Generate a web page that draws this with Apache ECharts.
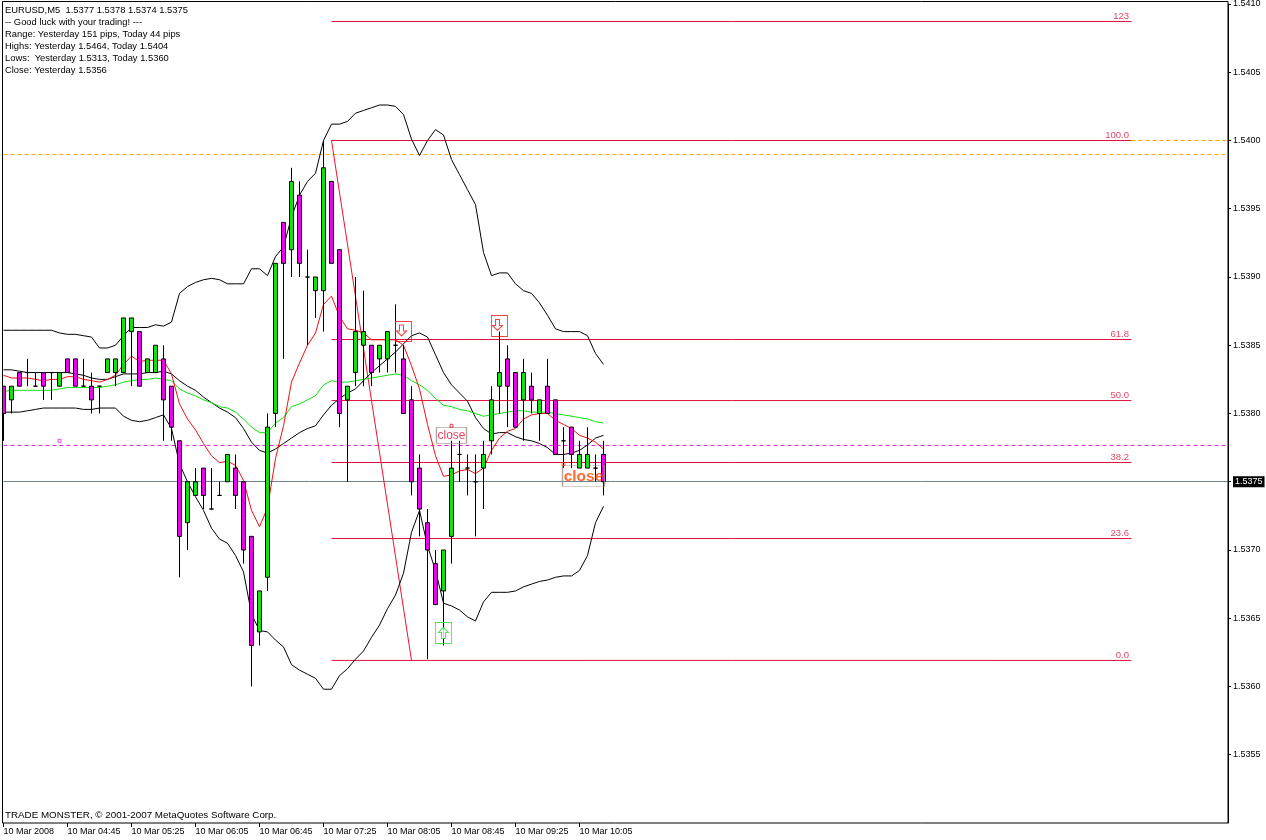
<!DOCTYPE html>
<html>
<head>
<meta charset="utf-8">
<style>html,body{margin:0;padding:0;background:#fff}#c{width:1266px;height:840px}</style>
<script src="https://cdn.jsdelivr.net/npm/echarts@6/dist/echarts.min.js"></script>
</head>
<body>
<div id="c"></div>
<script>
const headerLines = [
  'EURUSD,M5  1.5377 1.5378 1.5374 1.5375',
  '-- Good luck with your trading! ---',
  'Range: Yesterday 151 pips, Today 44 pips',
  'Highs: Yesterday 1.5464, Today 1.5404',
  'Lows:  Yesterday 1.5313, Today 1.5360',
  'Close: Yesterday 1.5356'
];
const footerText = 'TRADE MONSTER, \u00A9 2001-2007 MetaQuotes Software Corp.';
const timeTicks = ['10 Mar 2008','10 Mar 04:45','10 Mar 05:25','10 Mar 06:05','10 Mar 06:45','10 Mar 07:25','10 Mar 08:05','10 Mar 08:45','10 Mar 09:25','10 Mar 10:05'];
const priceTicks = [1.5355,1.5360,1.5365,1.5370,1.5375,1.5380,1.5385,1.5390,1.5395,1.5400,1.5405,1.5410];
const currentPriceLabel = '1.5375';

const open = [1.5382,1.5381,1.5383,1.5383,1.5382,1.5383,1.5383,1.5382,1.5384,1.5384,1.5382,1.5382,1.5382,1.5383,1.5383,1.5383,1.5386,1.5386,1.5383,1.5383,1.5384,1.5382,1.5378,1.5372,1.5374,1.5376,1.5373,1.5374,1.5375,1.5376,1.5375,1.5371,1.5364,1.5368,1.5380,1.5394,1.5392,1.5396,1.5390,1.5389,1.5389,1.5397,1.5392,1.5381,1.5383,1.5385,1.5385,1.5384,1.5384,1.5385,1.5384,1.5381,1.5376,1.5372,1.5369,1.5367,1.5371,1.5377,1.5376,1.5375,1.5376,1.5378,1.5382,1.5384,1.5383,1.5381,1.5382,1.5380,1.5382,1.5381,1.5378,1.5379,1.5376,1.5376,1.5376,1.5377];
const close = [1.5380,1.5382,1.5382,1.5383,1.5382,1.5382,1.5383,1.5383,1.5383,1.5382,1.5382,1.5381,1.5382,1.5384,1.5384,1.5387,1.5387,1.5382,1.5384,1.5385,1.5381,1.5379,1.5371,1.5375,1.5375,1.5374,1.5373,1.5374,1.5377,1.5374,1.5370,1.5363,1.5367,1.5379,1.5391,1.5391,1.5397,1.5391,1.5390,1.5390,1.5398,1.5391,1.5380,1.5382,1.5386,1.5386,1.5383,1.5385,1.5386,1.5385,1.5380,1.5375,1.5373,1.5370,1.5366,1.5370,1.5376,1.5377,1.5376,1.5375,1.5377,1.5381,1.5383,1.5382,1.5379,1.5383,1.5381,1.5381,1.5380,1.5377,1.5378,1.5377,1.5377,1.5377,1.5376,1.5375];
const low = [1.5378,1.5380,1.5382,1.5382,1.5382,1.5381,1.5381,1.5382,1.5383,1.5382,1.5382,1.5380,1.5380,1.5383,1.5382,1.5383,1.5382,1.5382,1.5383,1.5383,1.5378,1.5378,1.5368,1.5370,1.5374,1.5373,1.5373,1.5374,1.5375,1.5373,1.5369,1.5360,1.5363,1.5367,1.5379,1.5384,1.5390,1.5390,1.5385,1.5387,1.5386,1.5391,1.5379,1.5375,1.5382,1.5382,1.5382,1.5383,1.5383,1.5383,1.5380,1.5374,1.5371,1.5362,1.5366,1.5363,1.5369,1.5375,1.5374,1.5371,1.5373,1.5377,1.5380,1.5379,1.5379,1.5378,1.5380,1.5378,1.5380,1.5377,1.5376,1.5376,1.5376,1.5376,1.5375,1.5374];
const high = [1.5382,1.5382,1.5383,1.5384,1.5383,1.5383,1.5383,1.5383,1.5384,1.5384,1.5384,1.5383,1.5382,1.5384,1.5384,1.5387,1.5387,1.5386,1.5384,1.5385,1.5385,1.5382,1.5378,1.5375,1.5376,1.5376,1.5376,1.5375,1.5377,1.5377,1.5375,1.5371,1.5367,1.5380,1.5391,1.5394,1.5398,1.5397,1.5392,1.5390,1.5400,1.5397,1.5392,1.5382,1.5390,1.5389,1.5385,1.5385,1.5386,1.5388,1.5385,1.5382,1.5377,1.5373,1.5370,1.5370,1.5378,1.5378,1.5377,1.5377,1.5378,1.5382,1.5386,1.5385,1.5383,1.5384,1.5383,1.5381,1.5384,1.5381,1.5379,1.5379,1.5378,1.5379,1.5377,1.5378];

const bandUpper = [1.53861,1.53861,1.53861,1.53861,1.53861,1.53861,1.53861,1.53859,1.53858,1.53858,1.53857,1.53856,1.53848,1.53848,1.53850,1.53857,1.53863,1.53863,1.53863,1.53865,1.53864,1.53867,1.53888,1.53893,1.53896,1.53898,1.53899,1.53898,1.53895,1.53895,1.53895,1.53906,1.53906,1.53901,1.53915,1.53922,1.53944,1.53960,1.53970,1.53976,1.54000,1.54012,1.54012,1.54014,1.54020,1.54022,1.54024,1.54026,1.54026,1.54025,1.54019,1.54001,1.53989,1.54000,1.54008,1.54004,1.53986,1.53975,1.53964,1.53953,1.53918,1.53901,1.53903,1.53903,1.53895,1.53890,1.53888,1.53881,1.53872,1.53862,1.53860,1.53860,1.53860,1.53857,1.53844,1.53836];
const bandMiddle = [1.53832,1.53832,1.53831,1.53830,1.53830,1.53830,1.53830,1.53830,1.53830,1.53829,1.53828,1.53826,1.53825,1.53825,1.53827,1.53829,1.53829,1.53829,1.53830,1.53830,1.53831,1.53829,1.53824,1.53820,1.53817,1.53812,1.53808,1.53804,1.53801,1.53797,1.53789,1.53779,1.53773,1.53771,1.53774,1.53778,1.53782,1.53786,1.53789,1.53791,1.53799,1.53806,1.53811,1.53815,1.53818,1.53824,1.53830,1.53835,1.53840,1.53845,1.53851,1.53857,1.53859,1.53856,1.53843,1.53830,1.53821,1.53815,1.53809,1.53797,1.53789,1.53785,1.53786,1.53786,1.53783,1.53781,1.53780,1.53778,1.53775,1.53770,1.53770,1.53771,1.53773,1.53777,1.53782,1.53784];
const bandLower = [1.53801,1.53801,1.53801,1.53802,1.53803,1.53804,1.53804,1.53804,1.53804,1.53804,1.53803,1.53803,1.53804,1.53804,1.53804,1.53798,1.53795,1.53794,1.53795,1.53797,1.53799,1.53789,1.53763,1.53750,1.53739,1.53729,1.53716,1.53708,1.53705,1.53696,1.53684,1.53653,1.53641,1.53640,1.53634,1.53629,1.53616,1.53612,1.53609,1.53606,1.53598,1.53598,1.53608,1.53613,1.53620,1.53626,1.53636,1.53645,1.53657,1.53667,1.53683,1.53713,1.53729,1.53703,1.53685,1.53661,1.53659,1.53656,1.53651,1.53648,1.53662,1.53669,1.53669,1.53669,1.53670,1.53673,1.53675,1.53677,1.53678,1.53680,1.53681,1.53681,1.53685,1.53696,1.53720,1.53732];
const maSlow = [1.53816,1.53817,1.53817,1.53817,1.53817,1.53817,1.53817,1.53818,1.53819,1.53819,1.53819,1.53819,1.53819,1.53820,1.53821,1.53823,1.53824,1.53825,1.53825,1.53826,1.53825,1.53824,1.53818,1.53815,1.53813,1.53810,1.53808,1.53805,1.53804,1.53801,1.53796,1.53790,1.53786,1.53786,1.53793,1.53797,1.53805,1.53807,1.53810,1.53813,1.53821,1.53824,1.53823,1.53823,1.53824,1.53825,1.53826,1.53827,1.53828,1.53829,1.53828,1.53824,1.53821,1.53817,1.53811,1.53806,1.53805,1.53803,1.53802,1.53800,1.53798,1.53799,1.53800,1.53801,1.53802,1.53802,1.53801,1.53801,1.53801,1.53800,1.53799,1.53798,1.53797,1.53796,1.53794,1.53793];
const maFast = [1.53828,1.53826,1.53826,1.53826,1.53825,1.53824,1.53825,1.53825,1.53827,1.53827,1.53825,1.53824,1.53823,1.53825,1.53828,1.53836,1.53842,1.53838,1.53839,1.53839,1.53839,1.53829,1.53807,1.53796,1.53788,1.53778,1.53769,1.53764,1.53765,1.53762,1.53751,1.53729,1.53717,1.53731,1.53767,1.53791,1.53823,1.53837,1.53850,1.53859,1.53880,1.53886,1.53871,1.53862,1.53861,1.53859,1.53854,1.53854,1.53854,1.53854,1.53850,1.53835,1.53818,1.53792,1.53769,1.53754,1.53755,1.53758,1.53759,1.53756,1.53760,1.53773,1.53782,1.53787,1.53789,1.53796,1.53799,1.53800,1.53800,1.53795,1.53792,1.53789,1.53784,1.53782,1.53779,1.53774];

const fibNames = ['123','100.0','61.8','50.0','38.2','23.6','0.0'];
const fibValues = [1.540872,1.5400,1.538542,1.538095,1.537641,1.537084,1.536191];
const fibStartBar = 41, fibEndBar = 141;
const zigzagBars = [41,51];
const zigzagValues = [1.5400,1.536191];
const orangeLevel = 1.539897, orangeLevel2 = 1.5400, bidLevel = 1.537502, askLevel = 1.537766;
const LAST_SLOT = 153, SLOTS = 154;

const categories = Array.from({length: SLOTS}, (_, i) => (i % 8 === 0 && i / 8 < timeTicks.length) ? timeTicks[i / 8] : '');
const isTimeTick = i => i % 8 === 0 && i / 8 < timeTicks.length;
const FONT = '"Liberation Sans", Arial, sans-serif';
const CLEAR = 'rgba(0,0,0,0)';

function lineSeries(name, data, color, z) {
  return {name, type:'line', data, showSymbol:false, symbol:'none', smooth:false, silent:true, z:z||2,
    lineStyle:{color, width:1}, animation:false};
}
function levelSeries(name, from, to, value, color, type) {
  return {name, type:'line', data:[[from,value],[to,value]], showSymbol:false, symbol:'none', silent:true, z:1,
    lineStyle:{color, width:1, type:type||'solid'}, animation:false};
}
const ARROW = 'path://M3 0H7V6H10L5 11L0 6H3Z';

const option = {
  animation:false,
  backgroundColor:'#fff',
  title:[
    {text:headerLines.join('\n'), left:5, top:4, padding:0, textStyle:{fontFamily:FONT, fontSize:9.4, fontWeight:'normal', color:'#000', lineHeight:12}},
    {text:footerText, left:5, top:809, padding:0, textStyle:{fontFamily:FONT, fontSize:9.8, fontWeight:'normal', color:'#000', lineHeight:12}}
  ],
  grid:{left:-0.5, top:4, width:1232, height:819, containLabel:false, outerBoundsMode:'none'},
  xAxis:{type:'category', data:categories, boundaryGap:true,
    axisLine:{show:false},
    axisTick:{show:true, alignWithLabel:true, length:4, interval:(i)=>isTimeTick(i), lineStyle:{color:'#000',width:1}},
    axisLabel:{show:true, interval:(i)=>isTimeTick(i), align:'left', margin:4, fontFamily:FONT, fontSize:9, color:'#000', hideOverlap:false},
    splitLine:{show:false}},
  yAxis:{type:'value', position:'right', offset:-3.5, min:1.5350, max:1.5410, scale:true,
    axisLine:{show:true, lineStyle:{color:'#000',width:1}},
    axisTick:{show:true, length:3, customValues:priceTicks, lineStyle:{color:'#000',width:1}},
    axisLabel:{show:true, customValues:priceTicks, margin:5, fontFamily:FONT, fontSize:9, color:'#000',
      formatter:(v)=>{const s=(+v).toFixed(4); return s===currentPriceLabel?'{cur|'+s+'}':s;},
      rich:{cur:{backgroundColor:'#000', color:'#fff', fontFamily:FONT, fontSize:9, padding:[1,2,1,2]}}},
    splitLine:{show:false}},
  graphic:[
    {type:'rect', z:100, silent:true, shape:{x:0,y:0,width:2,height:826}, style:{fill:'#fff'}},
    {type:'rect', z:101, silent:true, shape:{x:2.5,y:1.5,width:1225.5,height:821.5}, style:{fill:'none',stroke:'#000',lineWidth:1}}
  ],
  series:[
    levelSeries('bid',0,LAST_SLOT,bidLevel,'#708090'),
    levelSeries('ask',0,LAST_SLOT,askLevel,'#e020e0',[4,3]),
    levelSeries('orange',0,LAST_SLOT,orangeLevel,'#ffa500',[4,3]),
    levelSeries('orange2',fibEndBar,LAST_SLOT,orangeLevel2,'#ffa500',[4,3]),
    ...fibNames.map((n,i)=>levelSeries('fib '+n,fibStartBar,fibEndBar,fibValues[i],'#DC143C')),
    {name:'fibLabels', type:'scatter', z:3, silent:true, symbol:'rect', symbolSize:1,
      itemStyle:{color:CLEAR},
      label:{show:true, position:[-2,-10], align:'right', verticalAlign:'top', color:'#DC143C', fontFamily:FONT, fontSize:9.5,
        formatter:(p)=>fibNames[p.dataIndex]},
      data:fibValues.map(v=>[fibEndBar,v])},
    lineSeries('zigzag', zigzagBars.map((b,i)=>[b,zigzagValues[i]]), '#f0102c'),
    lineSeries('bandUpper', bandUpper, '#000'),
    lineSeries('bandMiddle', bandMiddle, '#000'),
    lineSeries('bandLower', bandLower, '#000'),
    lineSeries('maSlow', maSlow, '#10e010'),
    lineSeries('maFast', maFast, '#f01010'),
    {name:'EURUSD', type:'candlestick', z:5, barWidth:5, silent:true,
      data:open.map((o,i)=>[o,close[i],low[i],high[i]]),
      itemStyle:{color:'#0CE40C', color0:'#F000F0', borderColor:'#000', borderColor0:'#000', borderColorDoji:'#000', borderWidth:1}},
    {name:'signalBox', type:'scatter', z:6, silent:true, symbol:'rect',
      itemStyle:{color:CLEAR, borderColor:'#f01010', borderWidth:1},
      data:[
        {value:[50,1.538601], symbolSize:[16,20]},
        {value:[62,1.538641], symbolSize:[16,21]},
        {value:[55,1.536392], symbolSize:[16,21], itemStyle:{color:CLEAR, borderColor:'#20e020', borderWidth:1}}
      ]},
    {name:'signalArrow', type:'scatter', z:6, silent:true, symbol:ARROW, symbolSize:[10,11],
      itemStyle:{color:'#fff', borderColor:'#f01010', borderWidth:1},
      data:[
        {value:[50,1.538601], symbolOffset:[-2,-1]},
        {value:[62,1.538641], symbolOffset:[-2,-1]},
        {value:[55,1.536392], symbolRotate:180, itemStyle:{color:'#fff', borderColor:'#20e020', borderWidth:1}}
      ]},
    {name:'closeBox', type:'scatter', z:6, silent:true, symbol:'rect',
      itemStyle:{color:CLEAR, borderColor:'#a09080', borderWidth:1},
      data:[
        {value:[56,1.537839], symbolSize:[30,16],
          label:{show:true, position:'inside', formatter:'close', color:'#DC143C', fontFamily:FONT, fontSize:12}},
        {value:[72,1.537542], symbolSize:[42,21], symbolOffset:[4,0],
          label:{show:true, position:'inside', offset:[0,1], formatter:'close', color:'#FF4500', fontFamily:FONT, fontSize:15.5, fontWeight:'bold'}}
      ]},
    {name:'tinyMarks', type:'scatter', z:6, silent:true, symbol:'rect', symbolSize:3,
      itemStyle:{color:CLEAR, borderWidth:1},
      data:[
        {value:[7,1.53780], itemStyle:{color:CLEAR, borderColor:'#e020e0', borderWidth:1}},
        {value:[56,1.53791], itemStyle:{color:CLEAR, borderColor:'#DC143C', borderWidth:1}},
        {value:[70,1.53763], itemStyle:{color:CLEAR, borderColor:'#FF4500', borderWidth:1}}
      ]}
  ]
};
const chart = echarts.init(document.getElementById('c'), null, {renderer:'canvas', width:1266, height:840});
chart.setOption(option);
</script>
</body>
</html>
